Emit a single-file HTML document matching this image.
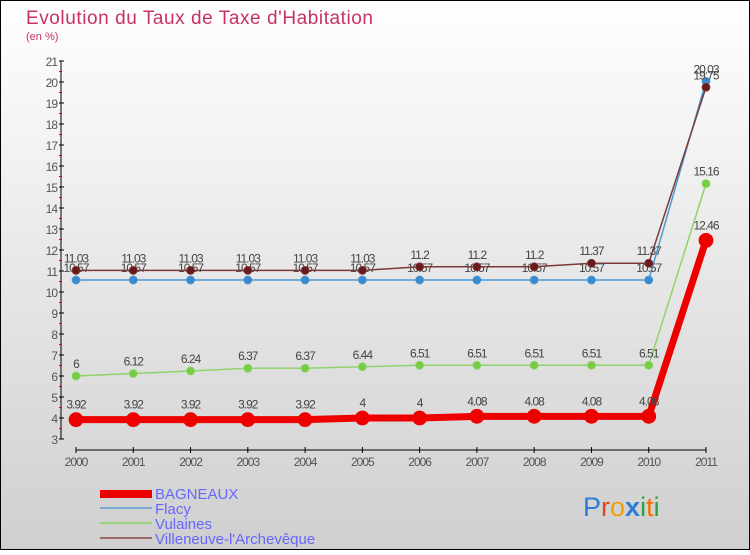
<!DOCTYPE html>
<html><head><meta charset="utf-8"><style>
body{margin:0}
#c{width:750px;height:550px;position:relative;font-family:"Liberation Sans","DejaVu Sans",sans-serif}
</style></head><body>
<div id="c">
<svg id="s" width="750" height="550" xmlns="http://www.w3.org/2000/svg" font-family="Liberation Sans, DejaVu Sans, sans-serif">
<defs><linearGradient id="bg" x1="0" y1="0" x2="0" y2="1"><stop offset="0" stop-color="#ffffff"/><stop offset="1" stop-color="#cfcfcf"/></linearGradient></defs>
<rect x="0.5" y="0.5" width="749" height="549" fill="url(#bg)" stroke="#000"/>
<text x="26" y="24" font-size="19" fill="#c8325f" textLength="347">Evolution du Taux de Taxe d'Habitation</text>
<text x="26" y="40" font-size="11" fill="#c8325f">(en %)</text>
<g id="axes"></g><g id="series"></g>
<g>
<rect x="100" y="490" width="52" height="8" fill="#ee0000"/>
<text x="155" y="499" font-size="15" fill="#6666ff">BAGNEAUX</text>
<rect x="100" y="507" width="52" height="2" fill="#7aa9d6"/>
<text x="155" y="514" font-size="15" fill="#6666ff">Flacy</text>
<rect x="100" y="522" width="52" height="2" fill="#9ad47a"/>
<text x="155" y="529" font-size="15" fill="#6666ff">Vulaines</text>
<rect x="100" y="537" width="52" height="2" fill="#9a6a6a"/>
<text x="155" y="544" font-size="15" fill="#6666ff">Villeneuve-l'Archevêque</text>
</g>
<g font-size="27">
<text x="583" y="516"><tspan fill="#2a7fd4">P</tspan><tspan fill="#e0471a">r</tspan><tspan fill="#f0a000">o</tspan><tspan fill="#2a7fd4" font-weight="bold">x</tspan><tspan fill="#2aa040">i</tspan><tspan fill="#f07000">t</tspan><tspan fill="#2aa040">i</tspan></text>
</g>
</svg></div>
<script>
const years=["2000","2001","2002","2003","2004","2005","2006","2007","2008","2009","2010","2011"];
const yTicks=[3,4,5,6,7,8,9,10,11,12,13,14,15,16,17,18,19,20,21];
const bagneaux=[3.92,3.92,3.92,3.92,3.92,4,4,4.08,4.08,4.08,4.08,12.46];
const flacy=[10.57,10.57,10.57,10.57,10.57,10.57,10.57,10.57,10.57,10.57,10.57,20.03];
const vulaines=[6,6.12,6.24,6.37,6.37,6.44,6.51,6.51,6.51,6.51,6.51,15.16];
const villeneuve=[11.03,11.03,11.03,11.03,11.03,11.03,11.2,11.2,11.2,11.37,11.37,19.75];
const NS="http://www.w3.org/2000/svg";
const X=i=>76+i*(630/11);
const Y=v=>439-(v-3)*21;
function mk(t,a,p){const e=document.createElementNS(NS,t);for(const k in a)e.setAttribute(k,a[k]);p.appendChild(e);return e;}
const ax=document.getElementById('axes');
const yl=mk('line',{x1:61,y1:Y(21),x2:61,y2:Y(3),stroke:'#000'},ax);


yTicks.forEach(v=>{
 mk('line',{x1:59,x2:64,y1:Y(v),y2:Y(v),stroke:'#000'},ax);
 if(v<21) mk('line',{x1:59,x2:62,y1:Y(v+0.5),y2:Y(v+0.5),stroke:'#e00'},ax);
 const t=mk('text',{x:57,y:Y(v)+5,'text-anchor':'end','font-size':12,fill:'#555','letter-spacing':'-1'},ax);
 t.textContent=v;
 
 
});
const xl=mk('line',{x1:X(0),y1:450,x2:X(11),y2:450,stroke:'#000'},ax);


years.forEach((y,i)=>{
 mk('line',{x1:X(i),x2:X(i),y1:447,y2:453,stroke:'#000'},ax);
 const t=mk('text',{x:X(i),y:466,'text-anchor':'middle','font-size':12,fill:'#555','letter-spacing':'-1'},ax);
 t.textContent=y;
 
 
});
const sg=document.getElementById('series');
function series(name,data,color,fill,w,r){
 const g=mk('g',{},sg);
 
 
 const l=mk('polyline',{points:data.map((v,i)=>X(i)+','+Y(v)).join(' '),fill:'none',stroke:color,'stroke-width':w},g);
 
 
 data.forEach((v,i)=>{
  const c=mk('circle',{cx:X(i),cy:Y(v),r:r,fill:fill,stroke:color,'stroke-width':0.8},g);
  
  
  const t=mk('text',{x:X(i),y:Y(v)-r-4,'text-anchor':'middle','font-size':12,fill:'#444','letter-spacing':'-1'},g);
  t.textContent=v;
  
  
 });
}
series('vulaines',vulaines,'#8fd46a','#77cc44',1.5,4);
series('flacy',flacy,'#4a9ad6','#3a8ad0',1.5,4);
series('villeneuve',villeneuve,'#7a3a3a','#6a1a1a',1.5,4);
series('bagneaux',bagneaux,'#ee0000','#ee0000',7,7);
</script>
</body></html>
